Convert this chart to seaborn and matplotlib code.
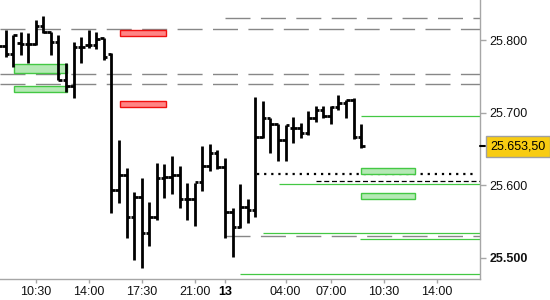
import numpy as np
import pandas as pd
import matplotlib
matplotlib.use("Agg")
import matplotlib.pyplot as plt
import matplotlib.transforms as mtrans
from matplotlib.patches import Rectangle
import seaborn as sns

# ---------------- data ----------------
# 30-minute slots on the (session-compressed) time axis
day12 = [f"12 {h:02d}:{m:02d}" for h in range(8, 23) for m in (0, 30)][:-1]   # 08:00 .. 22:00
day13 = [f"13 {h:02d}:{m:02d}" for h in range(0, 18) for m in (0, 30)]        # 00:00 .. 17:30
slots = day12 + ["12 23:30"] + day13

bar_open = [25794.5, 25792, 25781, 25796, 25794.5, 25794.5, 25819, 25811, 25797, 25745,
            25736.6, 25790, 25793, 25793, 25803, 25781, 25593.4, 25614, 25556, 25584,
            25534, 25556, 25610, 25611, 25614, 25581, 25581, 25604.4, 25626.4, 25644.4,
            25625, 25563, 25542.4, 25570, 25566, 25666.4, 25692.5, 25684, 25662, 25679,
            25679, 25672, 25692.5, 25703.6, 25695.5, 25708, 25713, 25717, 25666.4]
bar_high = [25807, 25814, 25807, 25811, 25809.6, 25827.5, 25833, 25811, 25807, 25768,
            25797, 25804, 25814, 25811, 25803, 25782, 25662, 25623.7, 25590.6, 25610,
            25577, 25630.6, 25629, 25640, 25626.4, 25603, 25603, 25654, 25657, 25648.5,
            25637.5, 25568.6, 25601.6, 25581, 25721.5, 25716, 25692.5, 25684, 25683, 25694,
            25685.7, 25702, 25709, 25709, 25709, 25724, 25717, 25720, 25684]
bar_low = [25779, 25776.5, 25763, 25779, 25768, 25793, 25809.6, 25779, 25745, 25728,
           25720, 25768, 25789, 25787.6, 25772.5, 25561.7, 25575.5, 25527, 25497, 25486,
           25516, 25552, 25582.4, 25588, 25568.6, 25552, 25544, 25592, 25619.6, 25622.3,
           25527, 25501, 25541, 25548, 25556, 25665, 25644.4, 25633, 25633, 25658,
           25665, 25669, 25687, 25692.5, 25684, 25703.6, 25692.5, 25663.6, 25651]
bar_close = [25792, 25781, 25807, 25794.5, 25794.5, 25819, 25811, 25797, 25745, 25736.6,
             25790, 25790, 25793, 25801.4, 25776.5, 25593.4, 25614, 25556, 25584, 25534,
             25556, 25610, 25611, 25614, 25581, 25581, 25604.4, 25626.4, 25644.4, 25625,
             25563, 25542.4, 25570, 25566, 25666.4, 25692.5, 25684, 25662, 25683, 25679,
             25672, 25692.5, 25703.6, 25695.5, 25708, 25713, 25717, 25666.4, 25653.5]

last_price = 25653.5
last_label = "25.653,50"

y_ticks = [25500, 25600, 25700, 25800]
y_tick_labels = ["25.500", "25.600", "25.700", "25.800"]
x_tick_slots = ["12 10:30", "12 14:00", "12 17:30", "12 21:00", "13 00:00",
                "13 04:00", "13 07:00", "13 10:30", "13 14:00"]
x_tick_labels = ["10:30", "14:00", "17:30", "21:00", "13", "04:00", "07:00", "10:30", "14:00"]

# horizontal levels: price, start slot (None = from left edge)
gray_levels = [25830.3, 25815.2, 25753.2, 25739.4, 25530.0]
gray_starts = [30, None, None, None, 30]
green_levels = [25695.3, 25601.6, 25534.2, 25526.0, 25477.7]
green_starts = [48, 37.1, 35, 47.9, 32]
dotted_level, dotted_span = 25615.4, (34.2, 63.3)
dashed_level, dashed_start = 25605.8, 42

# zones: (slot from, slot to, price low, price high)
green_zones = [(2.1, 9.1, 25754.5, 25767.0), (2.1, 9.1, 25729.0, 25736.6),
               (48.0, 55.1, 25615.4, 25623.7), (48.0, 55.1, 25581.0, 25589.3)]
red_zones = [(16.1, 22.2, 25805.5, 25813.8), (16.1, 22.2, 25707.7, 25716.0)]

# ---------------- figure ----------------
sns.set_theme(style="white")
plt.rcParams["font.family"] = ["Liberation Sans", "DejaVu Sans"]

fig = plt.figure(figsize=(5.5, 3.0), dpi=100)
ax = fig.add_axes([0, 21 / 300, 480 / 550, 279 / 300])
ax.set_facecolor("white")

df = pd.DataFrame({"slot": slots[:len(bar_open)], "open": bar_open, "high": bar_high,
                   "low": bar_low, "close": bar_close})
df["x"] = [slots.index(s) for s in df["slot"]]

XMIN, XMAX = 0.27, 63.7
ax.set_xlim(XMIN, XMAX)
ax.set_ylim(25470.8, 25855.1)

gray = "#878787"
for lvl, st in zip(gray_levels, gray_starts):
    x0 = XMIN if st is None else st
    ax.hlines(lvl, x0, XMAX, colors=gray, linewidth=1.0, linestyles=(0, (18, 7.5)))

green = "#44c844"
for lvl, st in zip(green_levels, green_starts):
    ax.hlines(lvl, st, XMAX, colors=green, linewidth=0.9)

ax.hlines(dotted_level, dotted_span[0], dotted_span[1], colors="black",
          linewidth=1.6, linestyles=(0, (1, 2.2)))
ax.hlines(dashed_level, dashed_start, XMAX, colors="black", linewidth=0.9,
          linestyles=(0, (4, 2.2)))

for (x0, x1, lo, hi) in green_zones:
    ax.add_patch(Rectangle((x0, lo), x1 - x0, hi - lo, facecolor="#b5e9b5",
                           edgecolor="#44c844", linewidth=1.0, zorder=3))
for (x0, x1, lo, hi) in red_zones:
    ax.add_patch(Rectangle((x0, lo), x1 - x0, hi - lo, facecolor="#ff8585",
                           edgecolor="#f01010", linewidth=1.0, zorder=3))

# OHLC bars
lw = 2.0
ax.vlines(df["x"], df["low"], df["high"], colors="black", linewidth=lw,
          capstyle="butt", zorder=4)
ax.hlines(df["open"], df["x"] - 0.47, df["x"], colors="black", linewidth=lw,
          capstyle="butt", zorder=4)
ax.hlines(df["close"], df["x"], df["x"] + 0.47, colors="black", linewidth=lw,
          capstyle="butt", zorder=4)

# axes styling
for s in ["left", "top"]:
    ax.spines[s].set_visible(False)
for s in ["right", "bottom"]:
    ax.spines[s].set_visible(True)
    ax.spines[s].set_color("#a6a6a6")
    ax.spines[s].set_linewidth(1.0)

ax.yaxis.tick_right()
ax.set_yticks(y_ticks)
ax.set_yticklabels(y_tick_labels)
ax.set_xticks([slots.index(s) for s in x_tick_slots])
ax.set_xticklabels(x_tick_labels)
ax.tick_params(axis="y", which="major", direction="out", length=4, width=1,
               color="#a6a6a6", labelsize=9, labelcolor="#111111", pad=3,
               right=True, left=False)
ax.tick_params(axis="x", which="major", direction="out", length=3, width=1,
               color="#a6a6a6", labelsize=9, labelcolor="#111111", pad=2,
               bottom=True)
for t in ax.get_yticklabels():
    if t.get_text() == "25.500":
        t.set_fontweight("bold")
for t in ax.get_xticklabels():
    if t.get_text() == "13":
        t.set_fontweight("bold")
        t.set_color("black")
ax.grid(False)

# current price marker
blend = mtrans.blended_transform_factory(ax.transAxes, ax.transData)
ax.plot([1.0, 1.0 + 5 / 480], [last_price, last_price], color="black", lw=1.5,
        transform=blend, clip_on=False, zorder=6)
ax.text(1.0 + 10 / 480, last_price, last_label, transform=blend, ha="left",
        va="center", fontsize=9, color="black", clip_on=False, zorder=7,
        bbox=dict(boxstyle="square,pad=0.35", facecolor="#f8cc12",
                  edgecolor="#a0a0a0", linewidth=1.0))

fig.savefig("out.png", dpi=100)
